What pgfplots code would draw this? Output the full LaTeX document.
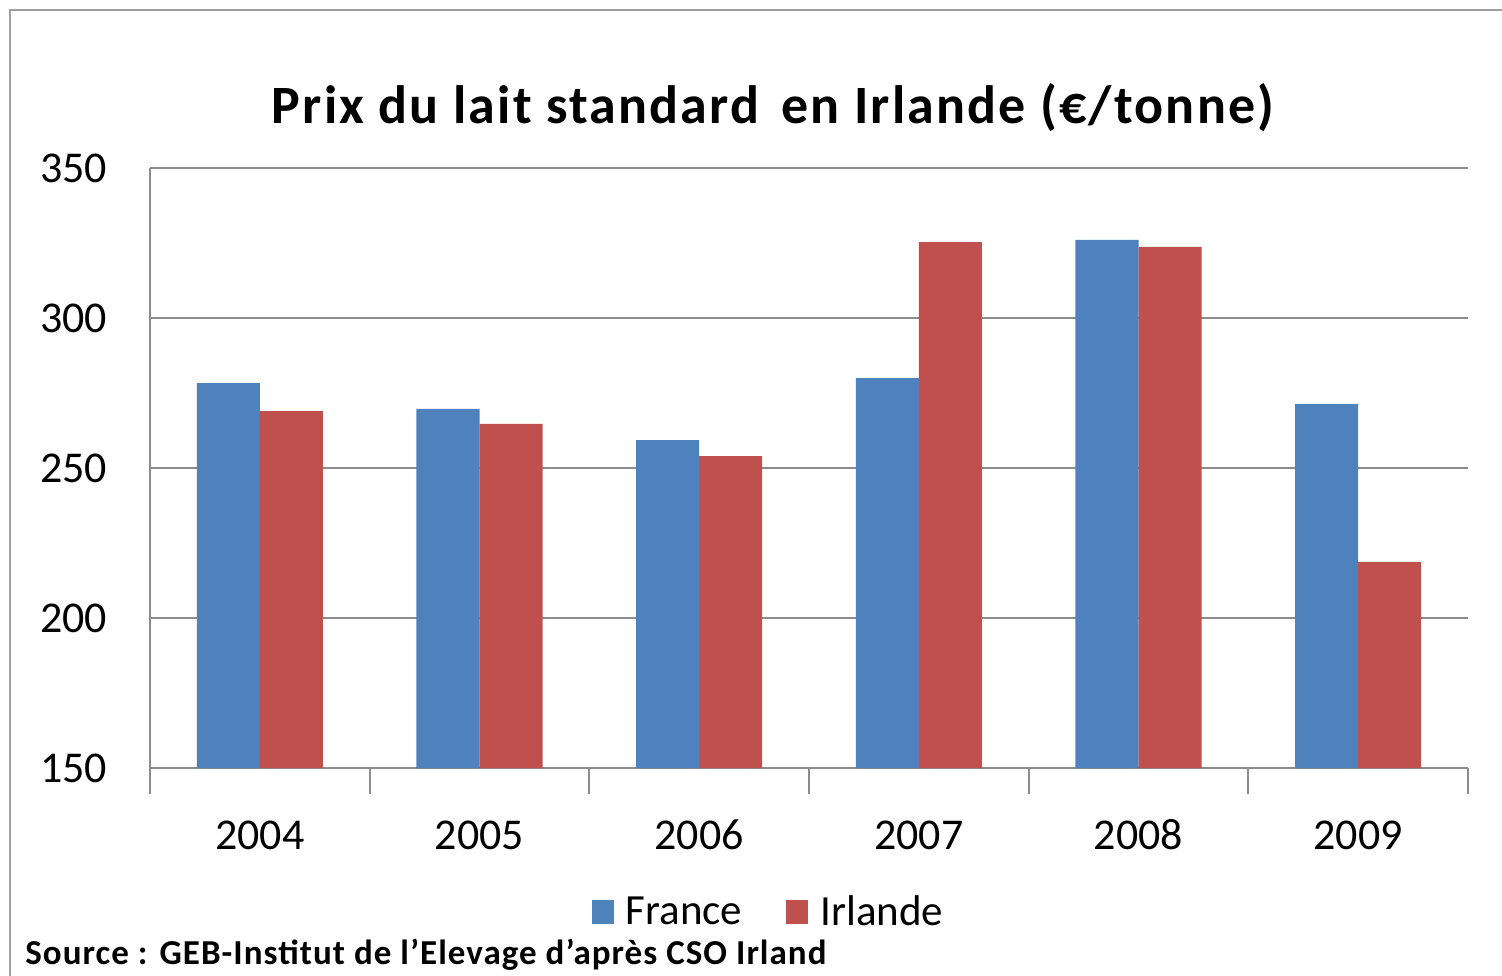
\documentclass[border=0pt]{standalone}
\usepackage{fontspec}
\setmainfont{Carlito}
\newfontfamily\titlefont[LetterSpace=4]{Carlito}
\newfontfamily\srcfont[LetterSpace=3]{Carlito}
\usepackage{pgfplots}
\pgfplotsset{compat=1.18}
\definecolor{frblue}{HTML}{4F81BD}
\definecolor{irred}{HTML}{C0504D}
\definecolor{gridgray}{HTML}{8C8C8C}
\definecolor{framegray}{HTML}{A0A0A0}
\begin{document}
\begin{tikzpicture}
\useasboundingbox (-75pt,-103.5pt) rectangle (676pt,384pt);
\fill[white] (-75pt,-103.5pt) rectangle (676pt,384pt);
\draw[line width=1.2pt, color=framegray] (-70pt,-104pt) -- (-70pt,379pt) -- (677pt,379pt);
\begin{axis}[
  at={(0pt,0pt)}, anchor=south west,
  scale only axis, width=659pt, height=300pt,
  xmin=-0.5, xmax=5.5, ymin=150, ymax=350,
  ytick={150,200,250,300,350},
  xtick={-0.5,0.5,...,5.5},
  xticklabels={2004,2005,2006,2007,2008,2009},
  x tick label as interval,
  axis x line*=bottom, axis y line*=left,
  axis line style={draw=gridgray, line width=1pt, -},
  ymajorgrids, grid style={draw=gridgray, line width=1pt},
  xtick style={draw=gridgray, line width=1pt},
  ytick style={draw=none},
  tick align=center, major tick length=13pt,
  /pgf/number format/assume math mode=true,
  /pgf/number format/.cd, 1000 sep={}, /pgfplots/.cd,
  ticklabel style={font=\fontsize{22}{22}\selectfont},
  yticklabel style={xshift=-11.5pt},
  xticklabel style={anchor=base, yshift=-27.5pt},
  ybar,
  legend style={at={(0.470,-0.24)}, anchor=center, draw=none, fill=none,
    legend columns=2, font=\fontsize{21.5}{21.5}\selectfont,
    /tikz/every odd column/.append style={column sep=4pt},
    /tikz/every even column/.append style={column sep=20pt}},
  legend image code/.code={\fill[#1] (0pt,-6pt) rectangle (11pt,6pt);},
]
\addplot[fill=frblue, draw=none, bar width=0.287, bar shift=-0.1435] coordinates {
  (0,278.3) (1,269.7) (2,259.3) (3,280.0) (4,326.0) (5,271.3)};
\addplot[fill=irred, draw=none, bar width=0.287, bar shift=0.1435] coordinates {
  (0,269.0) (1,264.7) (2,254.0) (3,325.3) (4,323.7) (5,218.7)};
\legend{France, Irlande}
\end{axis}
\node[anchor=base, inner sep=0pt, font=\titlefont\bfseries\fontsize{27}{27}\selectfont] at (311.5pt,322pt) {Prix du lait standard\hspace{4pt} en Irlande (€/tonne)};
\node[anchor=base west, inner sep=0pt, font=\srcfont\bfseries\fontsize{17.5}{17.5}\selectfont] at (-62.5pt,-98pt) {Source : GEB-Institut de l’Elevage d’après CSO Irland};
\end{tikzpicture}
\end{document}
